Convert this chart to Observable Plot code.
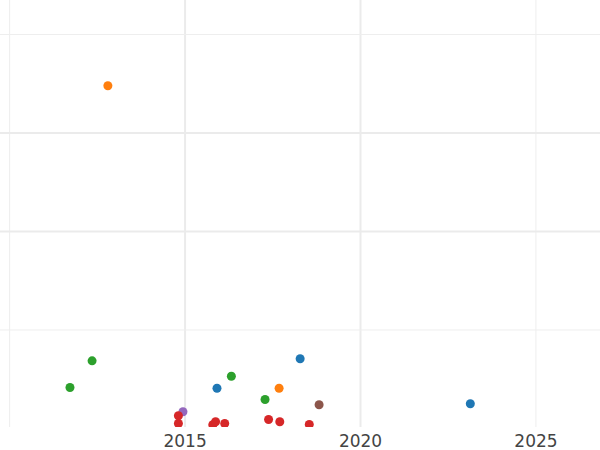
<!DOCTYPE html>
<html>
<head>
<meta charset="utf-8">
<script src="https://cdn.jsdelivr.net/npm/d3@7"></script>
<script src="https://cdn.jsdelivr.net/npm/@observablehq/plot@0.6"></script>
<style>
  html, body { margin: 0; padding: 0; background: #fff; }
  #chart { width: 600px; height: 450px; }
  #chart svg g[aria-label="x-axis tick label"] { font-size: 17px; fill: #444; }
</style>
</head>
<body>
<div id="chart"></div>
<script>
// Data
const groups = ["A", "B", "C", "D", "E", "F"];
const groupColors = ["#1f77b4", "#ff7f0e", "#2ca02c", "#d62728", "#9467bd", "#8c564b"];

const years = [2012.80, 2012.35, 2011.72, 2016.32, 2017.28, 2015.91, 2018.28, 2023.13, 2017.68,
               2018.82, 2014.94, 2014.81, 2014.81, 2015.79, 2015.87, 2016.13, 2017.38, 2017.70, 2018.54];
const values = [3.479, 0.687, 0.416, 0.531, 0.294, 0.409, 0.708, 0.251, 0.409,
                0.241, 0.170, 0.129, 0.051, 0.038, 0.068, 0.051, 0.091, 0.068, 0.041];
const series = ["B", "C", "C", "C", "C", "A", "A", "A", "B",
                "F", "E", "D", "D", "D", "D", "D", "D", "D", "D"];

const xTicks = [2015, 2020, 2025];
const xMajorGrid = [2015, 2020];
const xMinorGrid = [2010, 2025];
const yMajorGrid = [2, 3];
const yMinorGrid = [1, 4];

const points = years.map((x, i) => ({x, y: values[i], group: series[i]}));

const chart = Plot.plot({
  width: 600,
  height: 450,
  marginTop: 0,
  marginLeft: 0,
  marginRight: 0,
  marginBottom: 23,
  style: {fontFamily: "DejaVu Sans", background: "#fff", overflow: "visible"},
  x: {domain: [2009.74, 2026.84], ticks: xTicks, tickFormat: d3.format("d"), label: null},
  y: {domain: [0.0102, 4.345], label: null},
  color: {domain: groups, range: groupColors},
  marks: [
    Plot.ruleX(xMinorGrid, {x: d => d, stroke: "#eeeeee", strokeWidth: 1}),
    Plot.ruleX(xMajorGrid, {x: d => d, stroke: "#ebebeb", strokeWidth: 2}),
    Plot.ruleY(yMinorGrid, {y: d => d, stroke: "#eeeeee", strokeWidth: 1}),
    Plot.ruleY(yMajorGrid, {y: d => d, stroke: "#ebebeb", strokeWidth: 2}),
    Plot.axisX({ticks: xTicks, tickFormat: d3.format("d"), tickSize: 0, tickPadding: 7,
                fontSize: 17, fill: "#444", label: null}),
    Plot.axisY({ticks: [], label: null}),
    Plot.dot(points, {x: "x", y: "y", fill: "group", r: 4.5, stroke: "none", clip: true})
  ]
});
document.getElementById("chart").appendChild(chart);
</script>
</body>
</html>
